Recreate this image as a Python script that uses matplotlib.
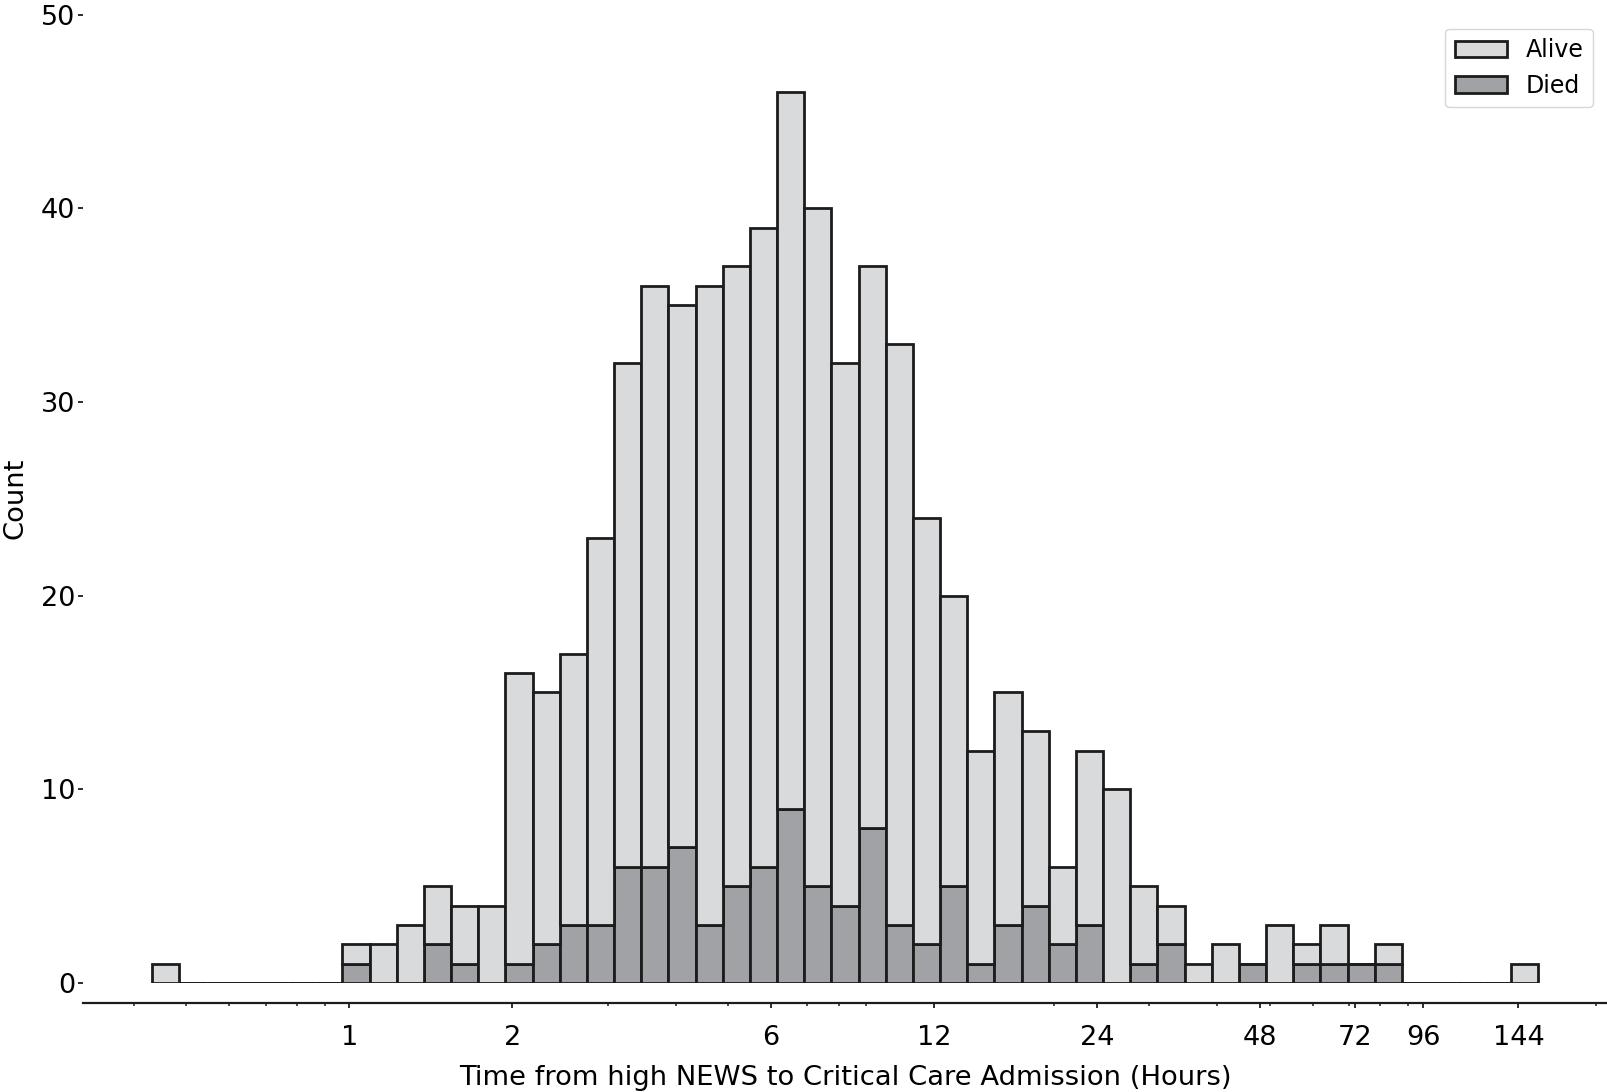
import numpy as np
import matplotlib
matplotlib.use("Agg")
import matplotlib.pyplot as plt
from matplotlib.patches import Patch
from matplotlib.ticker import FixedLocator, LogLocator, NullFormatter

# histogram binning (log-spaced bins between shortest and longest time)
t_min_hours = 0.4325
t_max_hours = 156.3
n_bins = 51

# counts per bin, left to right
died = [0, 0, 0, 0, 0, 0, 0, 1, 0, 0, 2, 1, 0, 1, 2, 3, 3, 6, 6, 7,
        3, 5, 6, 9, 5, 4, 8, 3, 2, 5, 1, 3, 4, 2, 3, 0, 1, 2, 0, 0,
        1, 0, 1, 1, 1, 1, 0, 0, 0, 0, 0]
alive = [1, 0, 0, 0, 0, 0, 0, 1, 2, 3, 3, 3, 4, 15, 13, 14, 20, 26, 30, 28,
         33, 32, 33, 37, 35, 28, 29, 30, 22, 15, 11, 12, 9, 4, 9, 10, 4, 2, 1, 2,
         0, 3, 1, 2, 0, 1, 0, 0, 0, 0, 1]

xticks = [1, 2, 6, 12, 24, 48, 72, 96, 144]
yticks = [0, 10, 20, 30, 40, 50]

alive_colour = "#d9dadc"
died_colour = "#a1a2a5"
edge_colour = "#1c1c1c"

edges = np.logspace(np.log10(t_min_hours), np.log10(t_max_hours), n_bins + 1)
left = edges[:-1]
widths = np.diff(edges)

fig = plt.figure(figsize=(16.08, 10.92), dpi=100)
ax = fig.add_axes([0.0516, 0.0998, 0.9478, 0.8869])
ax.set_xscale("log")

ax.bar(left, died, width=widths, align="edge", color=died_colour,
       edgecolor=edge_colour, linewidth=2)
ax.bar(left, alive, width=widths, bottom=died, align="edge", color=alive_colour,
       edgecolor=edge_colour, linewidth=2)

lo, hi = np.log10(edges[0]), np.log10(edges[-1])
pad = 0.05 * (hi - lo)
ax.set_xlim(10 ** (lo - pad), 10 ** (hi + pad))
ax.set_ylim(0, 50)

ax.xaxis.set_major_locator(FixedLocator(xticks))
ax.set_xticklabels([str(t) for t in xticks])
ax.xaxis.set_minor_locator(LogLocator(base=10, subs=np.arange(2, 10)))
ax.xaxis.set_minor_formatter(NullFormatter())
ax.set_yticks(yticks)

ax.tick_params(axis="both", which="major", labelsize=19.5, length=3.6,
               width=1.3, color=edge_colour)
ax.tick_params(axis="y", which="major", pad=2)
ax.tick_params(axis="x", which="major", pad=12)
ax.tick_params(axis="x", which="minor", length=2.2, width=1.1, color=edge_colour)

for s in ["top", "right", "left"]:
    ax.spines[s].set_visible(False)
ax.spines["bottom"].set_position(("outward", 14.4))
ax.spines["bottom"].set_linewidth(1.6)
ax.spines["bottom"].set_color(edge_colour)

ax.set_xlabel("Time from high NEWS to Critical Care Admission (Hours)",
              fontsize=19.7, labelpad=10.5)
ax.set_ylabel("Count", fontsize=19.7, labelpad=9)

handles = [Patch(facecolor=alive_colour, edgecolor=edge_colour, linewidth=2, label="Alive"),
           Patch(facecolor=died_colour, edgecolor=edge_colour, linewidth=2, label="Died")]
ax.legend(handles=handles, loc="upper right", fontsize=17, frameon=True,
          edgecolor="#cccccc", borderaxespad=0.6, handlelength=2.2)

fig.savefig("out.png", dpi=100)
